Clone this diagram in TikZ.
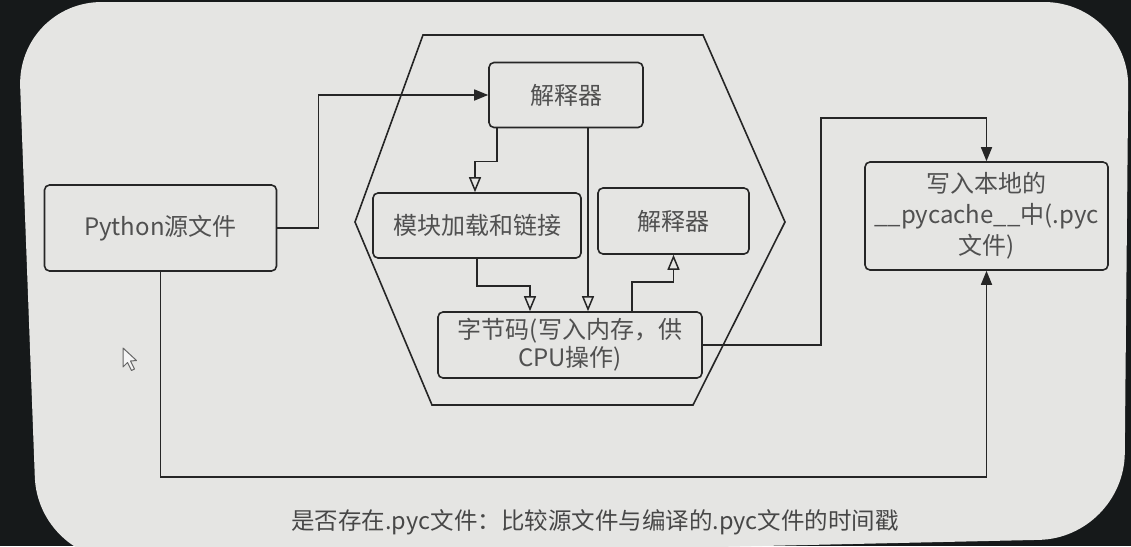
\documentclass[tikz,border=0pt]{standalone}
\usepackage{fontspec}
\setmainfont{Noto Sans CJK SC}
\usetikzlibrary{arrows.meta}
\definecolor{bezel}{HTML}{16191A}
\definecolor{screen}{HTML}{E5E5E3}
\definecolor{ink}{HTML}{262626}
\definecolor{label}{HTML}{505050}
\tikzset{
  box/.style={draw=ink, line width=1.6pt, rounded corners=5pt, fill=screen,
    text=label, font=\fontsize{24}{29}\selectfont, align=center, inner sep=0pt},
  link/.style={draw=ink, line width=1.6pt},
  solidtip/.style={-{Triangle[length=14pt,width=11pt]}},
  hollowtip/.style={-{Triangle[open,length=15pt,width=12pt,line width=1.5pt]}},
}
\begin{document}
\begin{tikzpicture}[x=1pt,y=-1pt]
\useasboundingbox (0,0) rectangle (1131,546);
% monitor bezel and screen area
\fill[bezel] (0,0) rectangle (1131,546);
\fill[screen, rounded corners=85pt] (17,2) -- (1129,2) -- (1124,538) -- (38,562) -- cycle;

% enclosing hexagon
\draw[link] (423,35) -- (703,35) -- (785,222) -- (693,405) -- (432,405) -- (355,222) -- cycle;

% boxes
\node[box, minimum width=232pt, minimum height=86pt] (py) at (160.5,228) {Python源文件};
\node[box, minimum width=154pt, minimum height=65pt] (top) at (566,95) {解释器};
\node[box, minimum width=208pt, minimum height=65pt] (mod) at (477,225.5) {模块加载和链接};
\node[box, minimum width=151pt, minimum height=66pt] (rint) at (673.5,221) {解释器};
\node[box, minimum width=264pt, minimum height=66pt, font=\fontsize{24}{28}\selectfont] (bc) at (570,345) {字节码(写入内存，供\\CPU操作)};
\node[box, minimum width=243pt, minimum height=108pt, font=\fontsize{24}{31}\selectfont] (pc) at (986.5,216) {写入本地的\\\_\_pycache\_\_中(.pyc\\文件)};

% connectors
\draw[link, solidtip] (py.east) -- ++(41,0) |- (top.west);
\draw[link, hollowtip] ([xshift=9pt]top.south west) -- ++(0,33) -| ([xshift=-2pt]mod.north);
\draw[link, hollowtip] ([xshift=22pt]top.south) -- ([xshift=22pt]top.south |- bc.north);
\draw[link, hollowtip] (mod.south) -- ++(0,27) -| ([xshift=-40pt]bc.north);
\draw[link, hollowtip] ([xshift=62pt]bc.north) -- ++(0,-29) -| (rint.south);
\draw[link, solidtip] (bc.east) -| ++(118,-227) -| (pc.north);
\draw[link, solidtip] (py.south) -- ++(0,205) -| (pc.south);

% mouse pointer
\draw[draw=gray!80!black, fill=white!92!gray, line width=1pt, line join=round]
  (123,348) -- (123,367) -- (127.5,362.5) -- (131.5,370.5) -- (134.5,369) -- (130.5,361) -- (136.5,360.5) -- cycle;

% caption
\node[text=ink!85!white, font=\fontsize{23.5}{28}\selectfont, inner sep=0pt] (cap) at (595,522)
  {是否存在.pyc文件：比较源文件与编译的.pyc文件的时间戳};
\end{tikzpicture}
\end{document}
